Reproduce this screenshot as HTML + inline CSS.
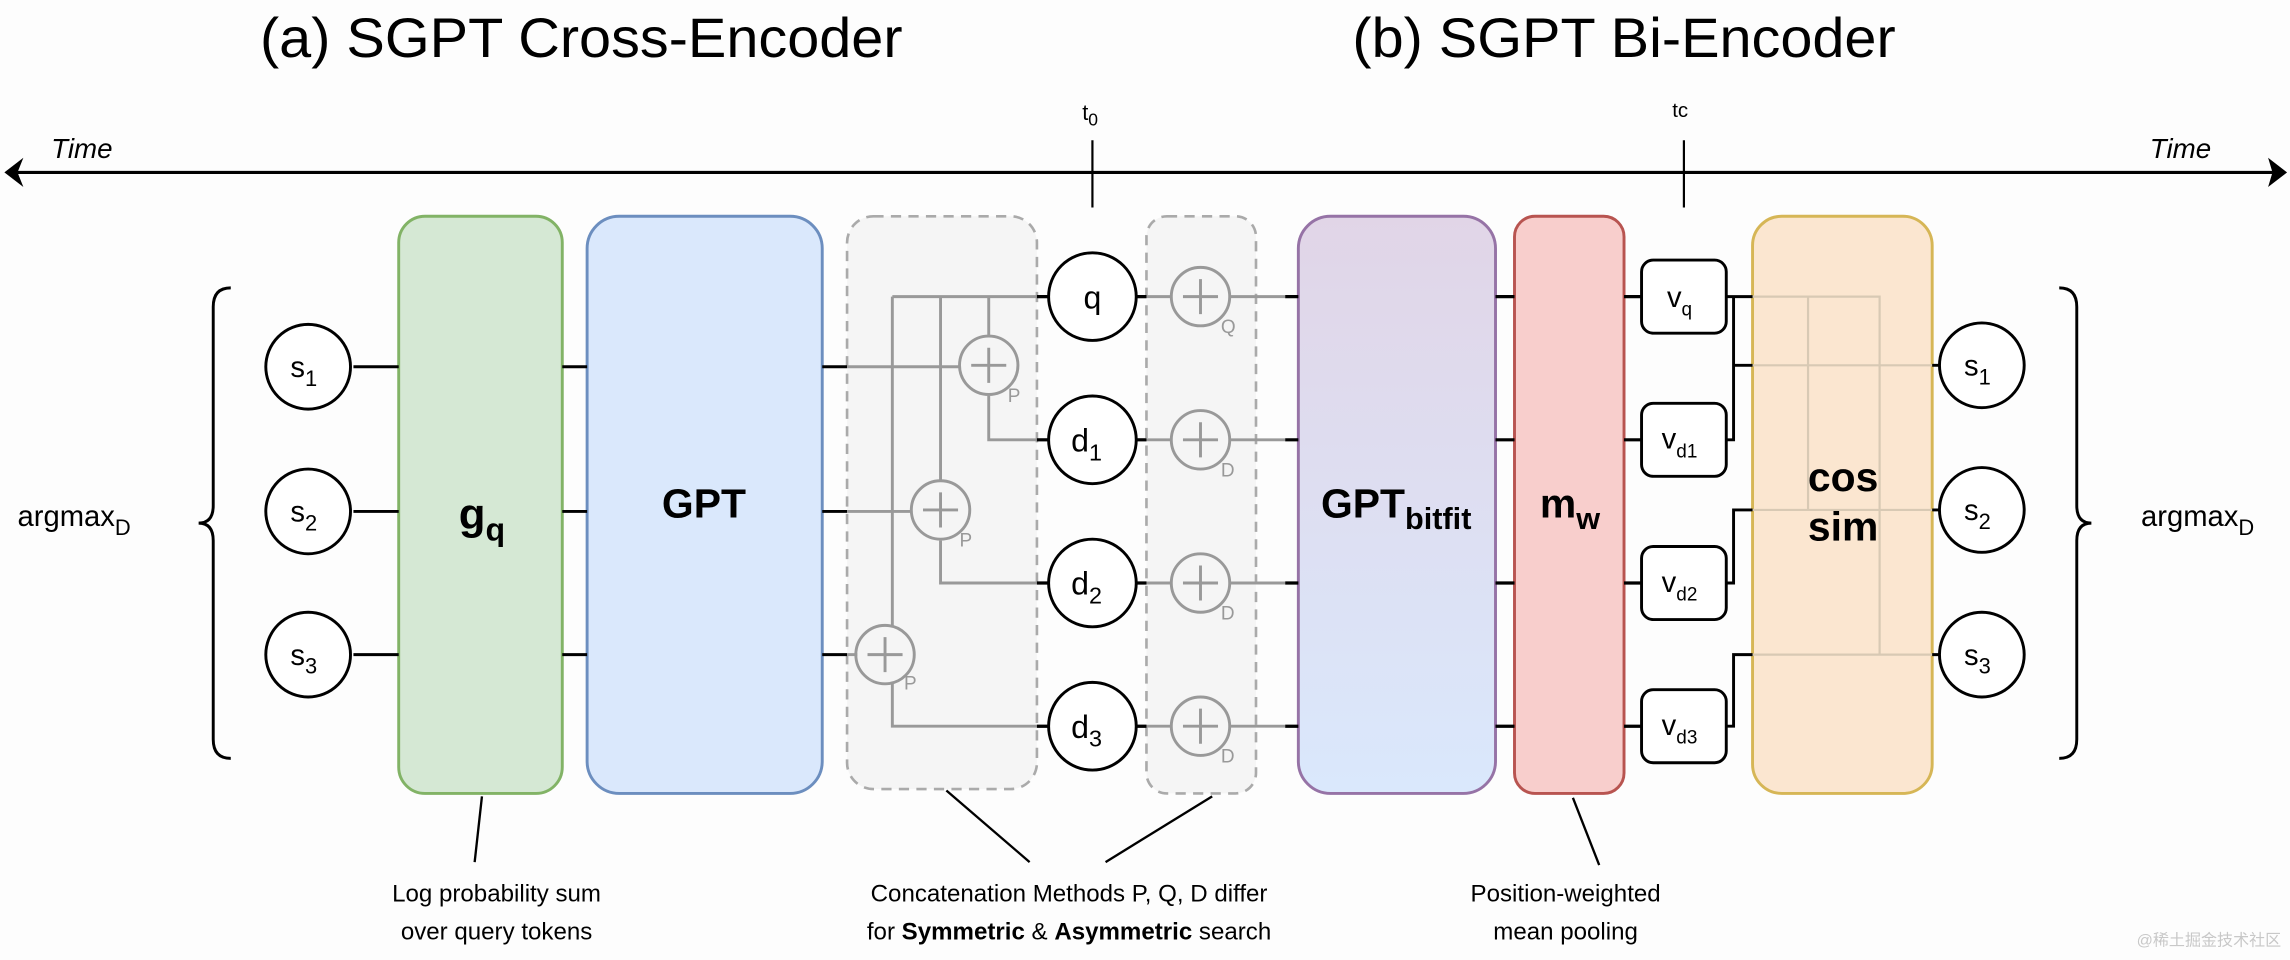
<!DOCTYPE html>
<html><head><meta charset="utf-8"><style>
html,body{margin:0;padding:0;background:#fdfdfd;}
svg{display:block;}
text{font-family:"Liberation Sans",sans-serif;}
</style></head><body>
<svg width="2290" height="960" viewBox="0 0 1568 657" preserveAspectRatio="none" xmlns="http://www.w3.org/2000/svg">
<defs>
<linearGradient id="pg" x1="0" y1="0" x2="0" y2="1"><stop offset="0" stop-color="#e1d5e7"/><stop offset="1" stop-color="#dae8fc"/></linearGradient>
</defs>
<rect width="1568" height="657" fill="#fdfdfd"/>
<!-- titles -->
<text x="398" y="39" font-size="38" text-anchor="middle" textLength="440" lengthAdjust="spacingAndGlyphs">(a) SGPT Cross-Encoder</text>
<text x="1112" y="39" font-size="38" text-anchor="middle" textLength="372" lengthAdjust="spacingAndGlyphs">(b) SGPT Bi-Encoder</text>
<!-- time axis -->
<line x1="12" y1="118" x2="1556" y2="118" stroke="#000" stroke-width="2.2"/>
<polygon points="3,118 16,108 12,118 16,128" fill="#000"/>
<polygon points="1566,118 1553,108 1556,118 1553,128" fill="#000"/>
<text x="35" y="108" font-size="19" font-style="italic">Time</text>
<text x="1472" y="108" font-size="19" font-style="italic">Time</text>
<line x1="748" y1="96" x2="748" y2="142" stroke="#000" stroke-width="1.5"/>
<line x1="1153" y1="96" x2="1153" y2="142" stroke="#000" stroke-width="1.5"/>
<text x="741" y="82" font-size="15">t<tspan font-size="12" dy="4">0</tspan></text>
<text x="1145" y="80" font-size="14">tc</text>
<!-- brackets -->
<path d="M158,197 Q146,197 146,210 L146,346 Q146,358 136,358 Q146,358 146,370 L146,506 Q146,519 158,519" fill="none" stroke="#000" stroke-width="2"/>
<path d="M1410,197 Q1422,197 1422,210 L1422,346 Q1422,358 1432,358 Q1422,358 1422,370 L1422,506 Q1422,519 1410,519" fill="none" stroke="#000" stroke-width="2"/>
<text x="12" y="360" font-size="20">argmax<tspan font-size="15" dy="6">D</tspan></text>
<text x="1466" y="360" font-size="20">argmax<tspan font-size="15" dy="6">D</tspan></text>
<!-- big boxes -->
<rect x="273" y="148" width="112" height="395" rx="18" fill="#d5e8d4" stroke="#82b366" stroke-width="2"/>
<rect x="402" y="148" width="161" height="395" rx="22" fill="#dae8fc" stroke="#6c8ebf" stroke-width="2"/>
<rect x="580" y="148" width="130" height="392" rx="18" fill="#f5f5f5" stroke="#aaa" stroke-width="1.8" stroke-dasharray="7,5"/>
<rect x="785" y="148" width="75" height="395" rx="14" fill="#f5f5f5" stroke="#aaa" stroke-width="1.8" stroke-dasharray="7,5"/>
<rect x="889" y="148" width="135" height="395" rx="22" fill="url(#pg)" stroke="#9673a6" stroke-width="2"/>
<rect x="1037" y="148" width="75" height="395" rx="14" fill="#f8cecc" stroke="#b85450" stroke-width="2"/>
<rect x="1200" y="148" width="123" height="395" rx="20" fill="#fbe6d0" stroke="#d6b656" stroke-width="2"/>
<!-- box labels -->
<text x="330" y="362" font-size="30" font-weight="bold" text-anchor="middle">g<tspan font-size="22" dy="8">q</tspan></text>
<text x="482" y="354" font-size="28" font-weight="bold" text-anchor="middle">GPT</text>
<text x="956" y="354" font-size="28" font-weight="bold" text-anchor="middle">GPT<tspan font-size="21" dy="8">bitfit</tspan></text>
<text x="1075" y="354" font-size="28" font-weight="bold" text-anchor="middle">m<tspan font-size="21" dy="8">w</tspan></text>
<text x="1262" y="336" font-size="28" font-weight="bold" text-anchor="middle">cos</text>
<text x="1262" y="370" font-size="28" font-weight="bold" text-anchor="middle">sim</text>
<!-- left circles & connectors -->
<g stroke="#000" stroke-width="2" fill="#fff">
<line x1="242" y1="251" x2="273" y2="251"/><line x1="242" y1="350" x2="273" y2="350"/><line x1="242" y1="448" x2="273" y2="448"/>
<line x1="385" y1="251" x2="402" y2="251"/><line x1="385" y1="350" x2="402" y2="350"/><line x1="385" y1="448" x2="402" y2="448"/>
<line x1="563" y1="251" x2="580" y2="251"/><line x1="563" y1="350" x2="580" y2="350"/><line x1="563" y1="448" x2="580" y2="448"/>
<circle cx="211" cy="251" r="29"/><circle cx="211" cy="350" r="29"/><circle cx="211" cy="448" r="29"/>
</g>
<g font-size="20" text-anchor="middle">
<text x="208" y="258">s<tspan font-size="15" dy="6">1</tspan></text>
<text x="208" y="357">s<tspan font-size="15" dy="6">2</tspan></text>
<text x="208" y="455">s<tspan font-size="15" dy="6">3</tspan></text>
</g>
<!-- gray wiring box1 -->
<g stroke="#999" stroke-width="2" fill="none">
<path d="M580,251 L657,251"/><path d="M580,350 L624,350"/><path d="M580,448 L587,448"/>
<path d="M611,203 L718,203"/>
<path d="M677,203 L677,230"/><path d="M677,271 L677,301 L718,301"/>
<path d="M644,203 L644,329"/><path d="M644,370 L644,399 L718,399"/>
<path d="M611,203 L611,428"/><path d="M611,468 L611,497 L718,497"/>
<circle cx="677" cy="250" r="20"/><circle cx="644" cy="349" r="20"/><circle cx="606" cy="448" r="20"/>
<path d="M665,250 h24 M677,238 v24 M632,349 h24 M644,337 v24 M594,448 h24 M606,436 v24"/>
<!-- box2 -->
<path d="M778,203 H802 M842,203 H880 M778,301 H802 M842,301 H880 M778,399 H802 M842,399 H880 M778,497 H802 M842,497 H880"/>
<circle cx="822" cy="203" r="20"/><circle cx="822" cy="301" r="20"/><circle cx="822" cy="399" r="20"/><circle cx="822" cy="497" r="20"/>
<path d="M810,203 h24 M822,191 v24 M810,301 h24 M822,289 v24 M810,399 h24 M822,387 v24 M810,497 h24 M822,485 v24"/>
</g>
<g font-size="13" fill="#999">
<text x="690" y="275">P</text><text x="657" y="374">P</text><text x="619" y="472">P</text>
<text x="836" y="228">Q</text><text x="836" y="326">D</text><text x="836" y="424">D</text><text x="836" y="522">D</text>
</g>
<!-- black short stubs -->
<g stroke="#000" stroke-width="2.2">
<path d="M710,203 H718 M710,301 H718 M710,399 H718 M710,497 H718 M778,203 H785 M778,301 H785 M778,399 H785 M778,497 H785 M880,203 H889 M880,301 H889 M880,399 H889 M880,497 H889"/>
<path d="M1024,203 H1037 M1024,301 H1037 M1024,399 H1037 M1024,497 H1037"/>
<path d="M1112,203 H1124 M1112,301 H1124 M1112,399 H1124 M1112,497 H1124"/>
</g>
<g stroke="#000" stroke-width="2" fill="#fff">
<circle cx="748" cy="203" r="30"/><circle cx="748" cy="301" r="30"/><circle cx="748" cy="399" r="30"/><circle cx="748" cy="497" r="30"/>
</g>
<g font-size="22" text-anchor="middle">
<text x="748" y="211">q</text>
<text x="744" y="309">d<tspan font-size="16" dy="6">1</tspan></text>
<text x="744" y="407">d<tspan font-size="16" dy="6">2</tspan></text>
<text x="744" y="505">d<tspan font-size="16" dy="6">3</tspan></text>
</g>
<!-- v boxes -->
<g stroke="#000" stroke-width="2" fill="#fff">
<rect x="1124" y="178" width="58" height="50" rx="8"/>
<rect x="1124" y="276" width="58" height="50" rx="8"/>
<rect x="1124" y="374" width="58" height="50" rx="8"/>
<rect x="1124" y="472" width="58" height="50" rx="8"/>
</g>
<g font-size="20" text-anchor="middle">
<text x="1150" y="210">v<tspan font-size="13" dy="6">q</tspan></text>
<text x="1150" y="307">v<tspan font-size="13" dy="6">d1</tspan></text>
<text x="1150" y="405">v<tspan font-size="13" dy="6">d2</tspan></text>
<text x="1150" y="503">v<tspan font-size="13" dy="6">d3</tspan></text>
</g>
<!-- light lines in cos sim -->
<g stroke="#d8c9b4" stroke-width="1.5" fill="none">
<path d="M1200,203 H1287 V448 M1238,203 V349 M1200,250 H1323 M1200,349 H1323 M1200,448 H1323"/>
</g>
<g stroke="#000" stroke-width="2" fill="none">
<path d="M1182,203 H1200 M1187,203 V301 H1182 M1187,250 H1200"/>
<path d="M1182,399 H1187 V349 H1200"/>
<path d="M1182,497 H1187 V448 H1200"/>
<path d="M1323,250 H1328 M1323,349 H1328 M1323,448 H1328"/>
</g>
<g stroke="#000" stroke-width="2" fill="#fff">
<circle cx="1357" cy="250" r="29"/><circle cx="1357" cy="349" r="29"/><circle cx="1357" cy="448" r="29"/>
</g>
<g font-size="20" text-anchor="middle">
<text x="1354" y="257">s<tspan font-size="15" dy="6">1</tspan></text>
<text x="1354" y="356">s<tspan font-size="15" dy="6">2</tspan></text>
<text x="1354" y="455">s<tspan font-size="15" dy="6">3</tspan></text>
</g>
<!-- callouts -->
<g stroke="#000" stroke-width="1.6">
<line x1="330" y1="545" x2="325" y2="590"/>
<line x1="648" y1="541" x2="705" y2="590"/>
<line x1="830" y1="545" x2="757" y2="590"/>
<line x1="1077" y1="546" x2="1095" y2="592"/>
</g>
<g font-size="16.5" text-anchor="middle">
<text x="340" y="617">Log probability sum</text>
<text x="340" y="643">over query tokens</text>
<text x="732" y="617">Concatenation Methods P, Q, D differ</text>
<text x="732" y="643">for <tspan font-weight="bold">Symmetric</tspan> &amp; <tspan font-weight="bold">Asymmetric</tspan> search</text>
<text x="1072" y="617">Position-weighted</text>
<text x="1072" y="643">mean pooling</text>
</g>
<text x="1562" y="647" font-size="11" fill="#c8c8c8" text-anchor="end" font-family="'Liberation Sans','Noto Sans CJK SC',sans-serif">@稀土掘金技术社区</text>
</svg>
</body></html>
